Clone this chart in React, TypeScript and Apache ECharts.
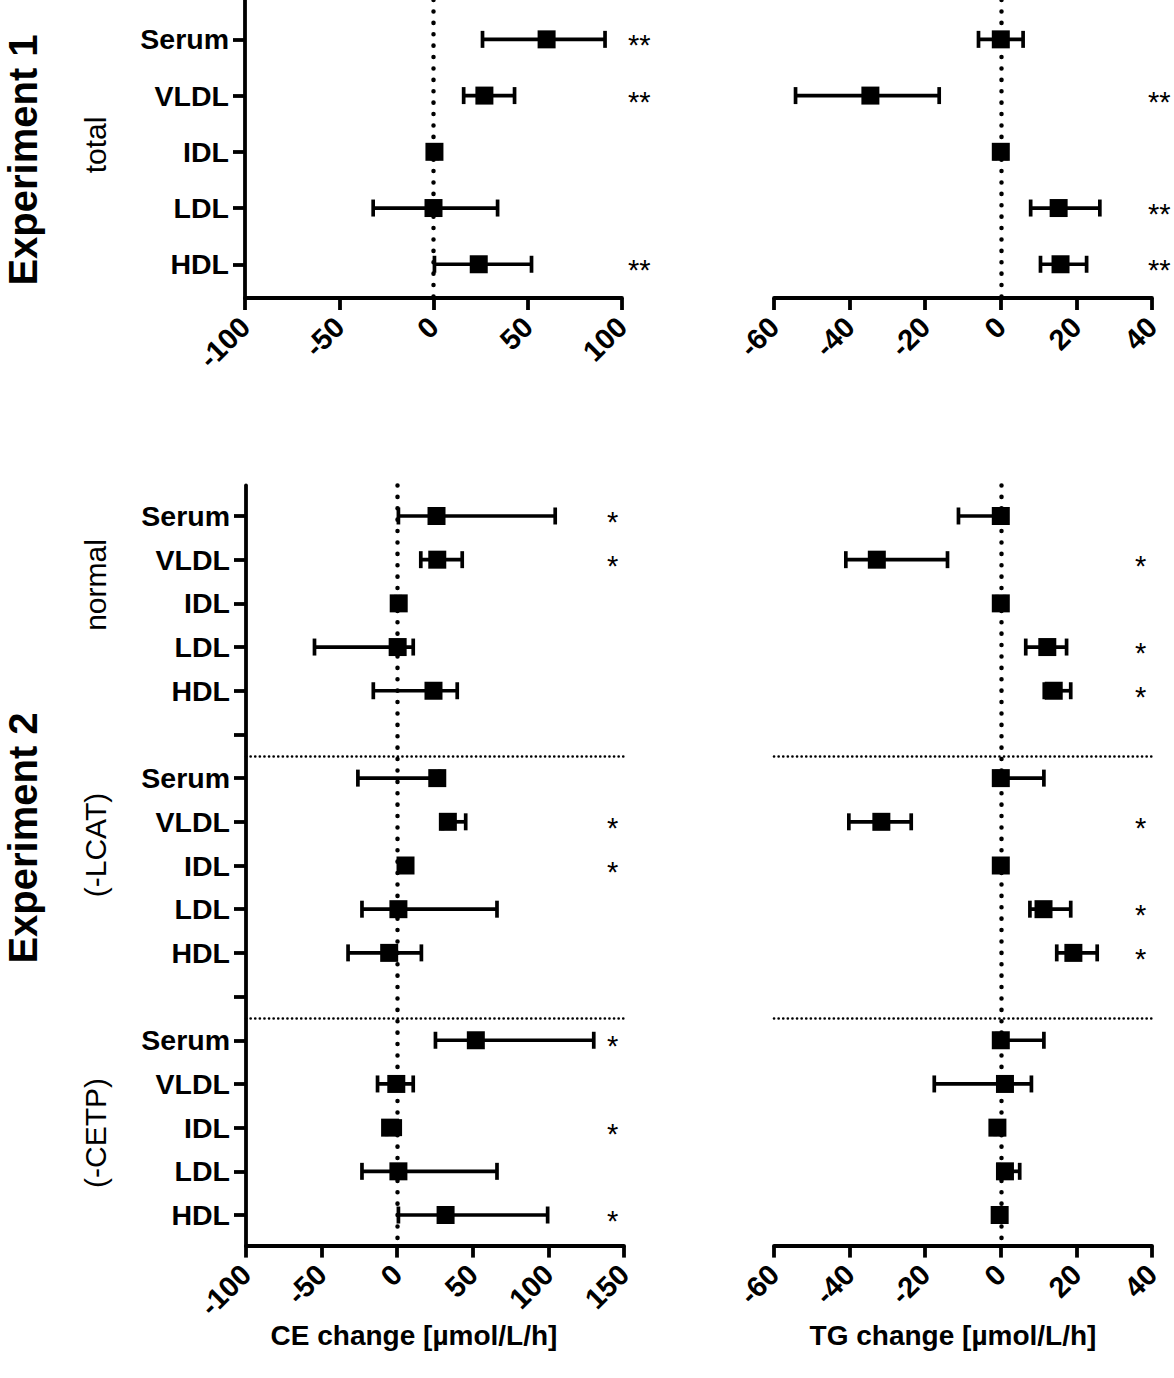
import React, { useEffect, useRef } from "react";
import * as echarts from "echarts";

const FONT = "'Liberation Sans', Arial, Helvetica, sans-serif";

// ---------- data ----------
const exp1Categories = ["Serum", "VLDL", "IDL", "LDL", "HDL"];
const exp2Categories = [
  "Serum", "VLDL", "IDL", "LDL", "HDL", "",
  "Serum", "VLDL", "IDL", "LDL", "HDL", "",
  "Serum", "VLDL", "IDL", "LDL", "HDL",
];

// Experiment 1, CE change
const ce1Mean = [60, 27, 0.5, 0, 24];
const ce1Low = [26, 16, -1, -32, 0.5];
const ce1High = [91, 43, 2, 34, 52];
const ce1Stars = ["**", "**", "", "", "**"];

// Experiment 1, TG change
const tg1Mean = [0, -34.5, 0, 15.3, 15.8];
const tg1Low = [-5.9, -54.3, -1.5, 7.9, 10.5];
const tg1High = [5.9, -16.3, 1.5, 26.2, 22.7];
const tg1Stars = ["", "**", "", "**", "**"];

// Experiment 2, CE change (normal / -LCAT / -CETP)
const ce2Mean = [26, 26.5, 1, 0.3, 24, null, 26.5, 33.5, 5.5, 0.8, -5.3, null, 52, -0.6, -4.7, 0.8, 32];
const ce2Low = [0.8, 15.6, -1, -54.7, -15.8, null, -26, 30, 4, -23.3, -32.5, null, 25.3, -13, -7, -23.3, 0.8];
const ce2High = [104.5, 43, 2, 10.6, 39.7, null, 28, 45.3, 7, 66, 16, null, 130, 10.6, 2, 66, 99.5];
const ce2Stars = ["*", "*", "", "", "", "", "", "*", "*", "", "", "", "*", "", "*", "", "*"];

// Experiment 2, TG change
const tg2Mean = [0, -32.8, 0, 12.3, 14, null, 0, -31.6, 0, 11.3, 19.2, null, 0, 1.1, -0.9, 1.1, -0.3];
const tg2Low = [-11.2, -41, -1, 6.6, 11.5, null, -1, -40.2, -1, 7.7, 14.8, null, -1, -17.6, -1.5, -0.5, -1];
const tg2High = [1, -14.1, 1, 17.4, 18.5, null, 11.4, -23.7, 1, 18.5, 25.5, null, 11.4, 8.1, 0.5, 5, 0.5];
const tg2Stars = ["", "*", "", "*", "*", "", "", "*", "", "*", "*", "", "", "", "", "", ""];

// axis ranges / ticks
const ceAxis1 = { min: -100, max: 100, interval: 50 };
const ceAxis2 = { min: -100, max: 150, interval: 50 };
const tgAxis = { min: -60, max: 40, interval: 20 };
const separators2 = [5.5, 11.5];

const groupLabels = [
  { text: "total", y: 145 },
  { text: "normal", y: 585 },
  { text: "(-LCAT)", y: 845 },
  { text: "(-CETP)", y: 1133 },
];
const experimentTitles = [
  { text: "Experiment 1", y: 160 },
  { text: "Experiment 2", y: 838 },
];
const xTitles = [
  { text: "CE change [µmol/L/h]", x: 414 },
  { text: "TG change [µmol/L/h]", x: 953 },
];

// ---------- helpers ----------
type PanelCfg = {
  grid: { left: number; right: number; top: number; bottom: number };
  x: { min: number; max: number; interval: number };
  cats: string[];
  yMin: number;
  yMax: number;
  mean: (number | null)[];
  low: (number | null)[];
  high: (number | null)[];
  stars: string[];
  starMargin: number;
  showCats: boolean;
  separators: number[];
};

function buildPanel(cfg: PanelCfg, gi: number) {
  const idxs = cfg.cats.map((_, i) => i);
  const grid = { ...cfg.grid, containLabel: false };
  const xAxis = {
    type: "value",
    gridIndex: gi,
    min: cfg.x.min,
    max: cfg.x.max,
    interval: cfg.x.interval,
    splitLine: { show: false },
    axisLine: { show: true, onZero: false, lineStyle: { color: "#000", width: 3.8 } },
    axisTick: { show: true, length: 12, lineStyle: { color: "#000", width: 3.8 } },
    axisLabel: {
      rotate: 45,
      margin: 24,
      color: "#000",
      fontFamily: FONT,
      fontWeight: "bold",
      fontSize: 29,
    },
  };
  const yMain = {
    type: "value",
    gridIndex: gi,
    inverse: true,
    min: cfg.yMin,
    max: cfg.yMax,
    position: "left",
    splitLine: { show: false },
    axisLine: { show: cfg.showCats, onZero: false, lineStyle: { color: "#000", width: 3.8 } },
    axisTick: {
      show: cfg.showCats,
      length: 12,
      customValues: idxs,
      lineStyle: { color: "#000", width: 3.8 },
    },
    axisLabel: {
      show: cfg.showCats,
      customValues: idxs,
      formatter: (v: number) => cfg.cats[Math.round(v)] ?? "",
      margin: 16,
      color: "#000",
      fontFamily: FONT,
      fontWeight: "bold",
      fontSize: 28.5,
    },
  };
  const starIdx = idxs.filter((i) => cfg.stars[i]);
  const yStars = {
    type: "value",
    gridIndex: gi,
    inverse: true,
    min: cfg.yMin,
    max: cfg.yMax,
    position: "right",
    splitLine: { show: false },
    axisLine: { show: false },
    axisTick: { show: false },
    axisLabel: {
      show: true,
      customValues: starIdx,
      formatter: (v: number) => cfg.stars[Math.round(v)] ?? "",
      margin: cfg.starMargin,
      color: "#000",
      fontFamily: FONT,
      fontSize: 29,
      verticalAlign: "top",
      lineHeight: 12,
    },
  };

  const barData: number[][] = [];
  const pointData: number[][] = [];
  cfg.mean.forEach((m, i) => {
    if (m === null) return;
    pointData.push([m, i]);
    const lo = cfg.low[i];
    const hi = cfg.high[i];
    if (lo !== null && hi !== null) barData.push([lo, hi, i]);
  });

  const xi = gi;
  const yi = gi * 2;

  const markLineData: any[] = [{ xAxis: 0, lineStyle: { color: "#000", width: 4.5, type: [0.1, 11.3], cap: "round" } }];
  cfg.separators.forEach((s) =>
    markLineData.push({ yAxis: s, lineStyle: { color: "#000", width: 2.6, type: [0.1, 4.5], cap: "round" } })
  );

  const series = [
    {
      type: "custom",
      xAxisIndex: xi,
      yAxisIndex: yi,
      z: 2,
      silent: true,
      encode: { x: [0, 1], y: 2 },
      data: barData,
      renderItem: (params: any, api: any) => {
        const lo = api.value(0);
        const hi = api.value(1);
        const idx = api.value(2);
        const p1 = api.coord([lo, idx]);
        const p2 = api.coord([hi, idx]);
        const h = 8.5;
        const style = { stroke: "#000", lineWidth: 3.7, fill: null };
        return {
          type: "group",
          children: [
            { type: "line", shape: { x1: p1[0], y1: p1[1], x2: p2[0], y2: p2[1] }, style },
            { type: "line", shape: { x1: p1[0], y1: p1[1] - h, x2: p1[0], y2: p1[1] + h }, style },
            { type: "line", shape: { x1: p2[0], y1: p2[1] - h, x2: p2[0], y2: p2[1] + h }, style },
          ],
        };
      },
      markLine: {
        silent: true,
        symbol: ["none", "none"],
        label: { show: false },
        emphasis: { disabled: true },
        data: markLineData,
      },
    },
    {
      type: "scatter",
      xAxisIndex: xi,
      yAxisIndex: yi,
      z: 3,
      silent: true,
      symbol: "rect",
      symbolSize: 18,
      itemStyle: { color: "#000", opacity: 1 },
      data: pointData,
    },
  ];
  return { grid, xAxis, yAxes: [yMain, yStars], series };
}

const H = 1378;
const W = 1174;

export default function App() {
  const ref = useRef<HTMLDivElement>(null);
  useEffect(() => {
    if (!ref.current) return;
    const chart = echarts.init(ref.current, undefined, { renderer: "svg" });

    const topGrid = { top: 0, bottom: H - 298 };
    const botGrid = { top: 485.4, bottom: H - 1245.6 };
    const panels: PanelCfg[] = [
      {
        grid: { left: 245, right: W - 622, ...topGrid },
        x: ceAxis1, cats: exp1Categories, yMin: -0.7, yMax: 4.6,
        mean: ce1Mean, low: ce1Low, high: ce1High, stars: ce1Stars, starMargin: 6,
        showCats: true, separators: [],
      },
      {
        grid: { left: 774, right: W - 1152, ...topGrid },
        x: tgAxis, cats: exp1Categories, yMin: -0.7, yMax: 4.6,
        mean: tg1Mean, low: tg1Low, high: tg1High, stars: tg1Stars, starMargin: -4,
        showCats: false, separators: [],
      },
      {
        grid: { left: 246, right: W - 624, ...botGrid },
        x: ceAxis2, cats: exp2Categories, yMin: -0.7, yMax: 16.7,
        mean: ce2Mean, low: ce2Low, high: ce2High, stars: ce2Stars, starMargin: -17,
        showCats: true, separators: separators2,
      },
      {
        grid: { left: 774, right: W - 1152, ...botGrid },
        x: tgAxis, cats: exp2Categories, yMin: -0.7, yMax: 16.7,
        mean: tg2Mean, low: tg2Low, high: tg2High, stars: tg2Stars, starMargin: -17,
        showCats: false, separators: separators2,
      },
    ];
    const built = panels.map((p, i) => buildPanel(p, i));

    const graphic: any[] = [];
    experimentTitles.forEach((t) =>
      graphic.push({
        type: "text",
        x: 23,
        y: t.y,
        rotation: Math.PI / 2,
        style: {
          text: t.text,
          fontFamily: FONT,
          fontWeight: "bold",
          fontSize: 40,
          lineHeight: 40,
          fill: "#000",
          align: "center",
          verticalAlign: "middle",
        },
      })
    );
    groupLabels.forEach((t) =>
      graphic.push({
        type: "text",
        x: 95,
        y: t.y,
        rotation: Math.PI / 2,
        style: {
          text: t.text,
          fontFamily: FONT,
          fontSize: 30,
          fill: "#000",
          align: "center",
          verticalAlign: "middle",
        },
      })
    );
    xTitles.forEach((t) =>
      graphic.push({
        type: "text",
        x: t.x,
        y: 1335,
        style: {
          text: t.text,
          fontFamily: FONT,
          fontWeight: "bold",
          fontSize: 28,
          fill: "#000",
          align: "center",
          verticalAlign: "middle",
        },
      })
    );

    chart.setOption({
      animation: false,
      backgroundColor: "#fff",
      grid: built.map((b) => b.grid),
      xAxis: built.map((b) => b.xAxis),
      yAxis: built.flatMap((b) => b.yAxes),
      series: built.flatMap((b) => b.series),
      graphic,
    });
    return () => chart.dispose();
  }, []);
  return (
    <div
      ref={ref}
      style={{ position: "absolute", left: 0, top: 0, width: W, height: H, background: "#fff" }}
    />
  );
}
